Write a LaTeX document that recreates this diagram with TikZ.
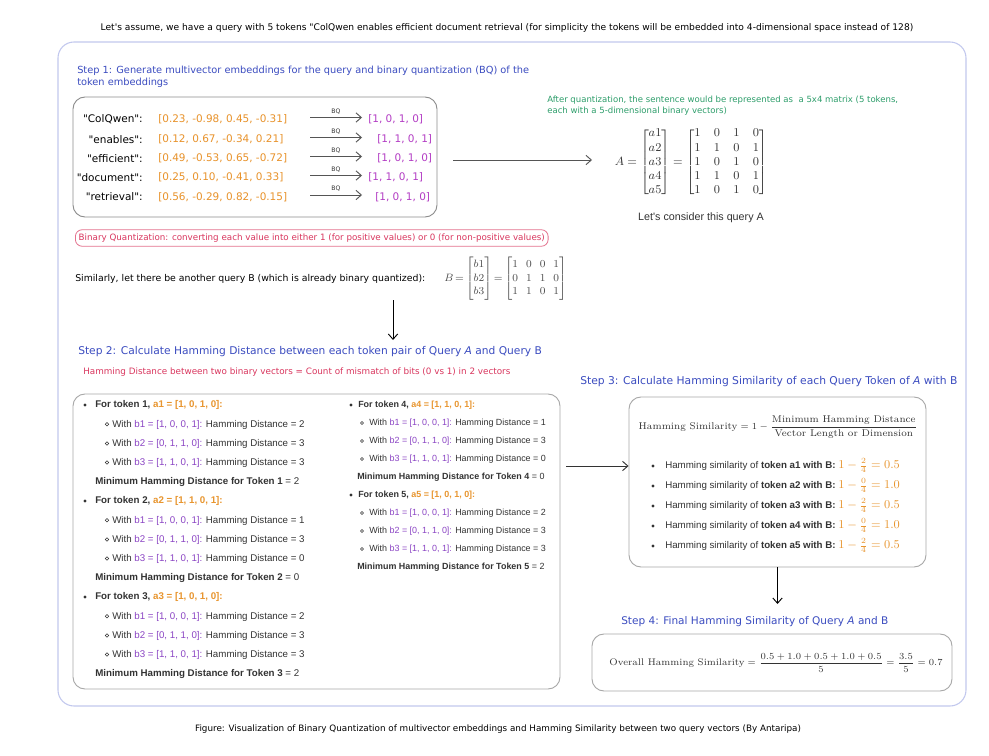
\documentclass[tikz,border=0pt]{standalone}
\usepackage{amsmath}
\usepackage[no-math]{fontspec}
\newfontfamily\hwfont{DejaVu Sans}
\newfontfamily\lsans{Liberation Sans}
\usetikzlibrary{arrows.meta,fit}
\definecolor{hwblue}{HTML}{3B4CC0}
\definecolor{vorange}{HTML}{E8922A}
\definecolor{vpurple}{HTML}{B33CC4}
\definecolor{lpurple}{HTML}{8B45C4}
\definecolor{lorange}{HTML}{E8952E}
\definecolor{hwgreen}{HTML}{2E9E6B}
\definecolor{hwred}{HTML}{D9365E}
\definecolor{txt}{HTML}{333333}
\definecolor{boxgray}{HTML}{A8A8A8}
\definecolor{outerb}{HTML}{C2C8EE}
\definecolor{arrgray}{HTML}{555555}
\newcommand\fs[1]{\fontsize{#1}{#1}\selectfont}
\newcommand\tokline[3]{\textbf{For token #1, \textcolor{lorange}{#2 = #3:}}}
\newcommand\withline[3]{With \textcolor{lpurple}{#1 = #2:} Hamming Distance = #3}
\newcommand\minline[2]{\textbf{Minimum Hamming Distance for Token #1} = #2}
\newcommand\simline[2]{Hamming similarity of \textbf{token #1 with B:} \textcolor{lorange}{\fontsize{9}{9}\selectfont$1-\frac{#2}{4}=\ifnum#2=0 1.0\else 0.5\fi$}}
\tikzset{
  hw/.style={inner sep=0pt, font=\hwfont},
  box/.style={draw=boxgray, line width=0.7pt, rounded corners=9pt, inner sep=0pt},
  arr/.style={draw=arrgray, line width=0.7pt, -{Straight Barb[length=4pt,width=7pt]}},
  lstL/.style={anchor=mid west, inner sep=0pt, text=txt, font=\lsans\fontsize{7.3}{8}\selectfont},
  lstR/.style={anchor=mid west, inner sep=0pt, text=txt, font=\lsans\fontsize{6.7}{7.5}\selectfont},
  vec/.style={hw, anchor=west, text=vorange, font=\hwfont\fs{7.85}},
  res/.style={hw, anchor=west, text=vpurple, font=\hwfont\fs{7.85}},
  lab/.style={hw, anchor=east, text=black, font=\hwfont\fs{7.85}},
  bq/.style={hw, text=txt, font=\hwfont\fs{4.6}},
  mathn/.style={inner sep=0pt, text=txt},
}
\begin{document}
\begin{tikzpicture}[x=0.75pt,y=-0.75pt]
\useasboundingbox (0,0) rectangle (989,756);
\fill[white] (0,0) rectangle (989,756);

% title
\node[hw, font=\hwfont\fs{6.85}] (title) at (507,28) {Let's assume, we have a query with 5 tokens "ColQwen enables efficient document retrieval (for simplicity the tokens will be embedded into 4-dimensional space instead of 128)};

% outer frame
\node[fit={(58,42) (966,706)}, draw=outerb, line width=0.8pt, rounded corners=12pt, inner sep=0pt] (outer) {};

% step 1
\node[hw, anchor=west, text=hwblue, align=left, font=\hwfont\fontsize{7.35}{9.2}\selectfont] (s1head) at (77,77) {Step 1: Generate multivector embeddings for the query and binary quantization (BQ) of the\\token embeddings};
\node[box, draw=black!45, fit={(73,97) (437,217)}] (s1box) {};

\node[lab] (l1) at (143,119.5) {"ColQwen":};
\node[lab] (l2) at (143,139.5) {"enables":};
\node[lab] (l3) at (143,158.5) {"efficient":};
\node[lab] (l4) at (143,177.5) {"document":};
\node[lab] (l5) at (143,197) {"retrieval":};

\node[vec] (v1) at (158,119.5) {[0.23, -0.98, 0.45, -0.31]};
\node[vec] (v2) at (158,139.5) {[0.12, 0.67, -0.34, 0.21]};
\node[vec] (v3) at (158,158.5) {[0.49, -0.53, 0.65, -0.72]};
\node[vec] (v4) at (158,177.5) {[0.25, 0.10, -0.41, 0.33]};
\node[vec] (v5) at (158,197) {[0.56, -0.29, 0.82, -0.15]};

\node[res] (r1) at (368,119.5) {[1, 0, 1, 0]};
\node[res] (r2) at (377,139.5) {[1, 1, 0, 1]};
\node[res] (r3) at (377,158.5) {[1, 0, 1, 0]};
\node[res] (r4) at (368,177.5) {[1, 1, 0, 1]};
\node[res] (r5) at (375,197) {[1, 0, 1, 0]};

\foreach \i/\y in {1/117.5,2/137.5,3/156.5,4/175.5,5/195}{
  \coordinate (bqs\i) at (310,\y);
  \coordinate (bqe\i) at (362,\y);
  \draw[arr] (bqs\i) -- (bqe\i);
  \node[bq] (bql\i) at (336,\y-6) {BQ};
}

% arrow to A
\coordinate (aS) at (453,160);
\coordinate (aE) at (592,160);
\draw[arr] (aS) -- (aE);

\node[hw, anchor=west, text=hwgreen, align=left, font=\hwfont\fontsize{6.4}{8.4}\selectfont] (green) at (547,105.5) {After quantization, the sentence would be represented as \ a 5x4 matrix (5 tokens,\\each with a 5-dimensional binary vectors)};

\node[mathn] (Aeq) at (691,162.5) {\fontsize{8.8}{10.65}\selectfont $A=\begin{bmatrix}a1\\a2\\a3\\a4\\a5\end{bmatrix}=\begin{bmatrix}1&0&1&0\\1&1&0&1\\1&0&1&0\\1&1&0&1\\1&0&1&0\end{bmatrix}$};
\node[inner sep=0pt, text=txt, font=\lsans\fs{8.05}] (consA) at (701,218) {Let's consider this query A};

% BQ definition
\node[draw=hwred!70, rounded corners=5pt, line width=0.6pt, anchor=west, inner xsep=2.5pt, inner ysep=3pt, text=hwred, font=\hwfont\fs{6.55}] (bqdef) at (75,238) {Binary Quantization: converting each value into either 1 (for positive values) or 0 (for non-positive values)};

% query B
\node[hw, anchor=west, text=black, font=\hwfont\fs{7.0}] (simB) at (75,279) {Similarly, let there be another query B (which is already binary quantized):};
\node[mathn, anchor=west, text=black!70] (Beq) at (444,278.5) {\fontsize{7.6}{10.3}\selectfont \setlength{\arraycolsep}{3pt}$B\mskip-2mu=\mskip-2mu\begin{bmatrix}b1\\b2\\b3\end{bmatrix}\mskip-2mu=\mskip-2mu\begin{bmatrix}1&0&0&1\\0&1&1&0\\1&1&0&1\end{bmatrix}$};

\coordinate (dS) at (393,300);
\coordinate (dE) at (393,340);
\draw[arr, draw=black] (dS) -- (dE);

% step 2
\node[hw, anchor=west, text=hwblue, font=\hwfont\fs{8.0}] (s2head) at (78,352) {Step 2: Calculate Hamming Distance between each token pair of Query \textit{A} and Query B};
\node[hw, anchor=west, text=hwred, font=\hwfont\fs{6.6}] (s2sub) at (83,372) {Hamming Distance between two binary vectors = Count of mismatch of bits (0 vs 1) in 2 vectors};
\node[box, fit={(73,394) (560,689)}] (s2box) {};

% left column
\foreach \y in {405,501,597}{\fill[txt] (85,\y) circle (1.3pt);}
\foreach \y in {424.2,443.4,462.6,520.2,539.4,558.6,616.2,635.4,654.6}{\draw[txt, line width=0.4pt] (107,\y) circle (1.3pt);}
\node[lstL] (t1) at (95,405) {\tokline{1}{a1}{[1, 0, 1, 0]}};
\node[lstL] (t1a) at (112,424.2) {\withline{b1}{[1, 0, 0, 1]}{2}};
\node[lstL] (t1b) at (112,443.4) {\withline{b2}{[0, 1, 1, 0]}{3}};
\node[lstL] (t1c) at (112,462.6) {\withline{b3}{[1, 1, 0, 1]}{3}};
\node[lstL] (t1m) at (95,481.8) {\minline{1}{2}};
\node[lstL] (t2) at (95,501) {\tokline{2}{a2}{[1, 1, 0, 1]}};
\node[lstL] (t2a) at (112,520.2) {\withline{b1}{[1, 0, 0, 1]}{1}};
\node[lstL] (t2b) at (112,539.4) {\withline{b2}{[0, 1, 1, 0]}{3}};
\node[lstL] (t2c) at (112,558.6) {\withline{b3}{[1, 1, 0, 1]}{0}};
\node[lstL] (t2m) at (95,577.8) {\minline{2}{0}};
\node[lstL] (t3) at (95,597) {\tokline{3}{a3}{[1, 0, 1, 0]}};
\node[lstL] (t3a) at (112,616.2) {\withline{b1}{[1, 0, 0, 1]}{2}};
\node[lstL] (t3b) at (112,635.4) {\withline{b2}{[0, 1, 1, 0]}{3}};
\node[lstL] (t3c) at (112,654.6) {\withline{b3}{[1, 1, 0, 1]}{3}};
\node[lstL] (t3m) at (95,673.8) {\minline{3}{2}};

% right column
\foreach \y in {405,495}{\fill[txt] (351,\y) circle (1.2pt);}
\foreach \y in {423,441,459,513,531,549}{\draw[txt, line width=0.4pt] (362,\y) circle (1.2pt);}
\node[lstR] (t4) at (358,405) {\tokline{4}{a4}{[1, 1, 0, 1]}};
\node[lstR] (t4a) at (369,423) {\withline{b1}{[1, 0, 0, 1]}{1}};
\node[lstR] (t4b) at (369,441) {\withline{b2}{[0, 1, 1, 0]}{3}};
\node[lstR] (t4c) at (369,459) {\withline{b3}{[1, 1, 0, 1]}{0}};
\node[lstR] (t4m) at (357,477) {\minline{4}{0}};
\node[lstR] (t5) at (358,495) {\tokline{5}{a5}{[1, 0, 1, 0]}};
\node[lstR] (t5a) at (369,513) {\withline{b1}{[1, 0, 0, 1]}{2}};
\node[lstR] (t5b) at (369,531) {\withline{b2}{[0, 1, 1, 0]}{3}};
\node[lstR] (t5c) at (369,549) {\withline{b3}{[1, 1, 0, 1]}{3}};
\node[lstR] (t5m) at (357,567) {\minline{5}{2}};

% step 3
\node[hw, anchor=west, text=hwblue, font=\hwfont\fs{8.05}] (s3head) at (580,382) {Step 3: Calculate Hamming Similarity of each Query Token of \textit{A} with B};
\node[box, fit={(629,397) (926,567)}] (s3box) {};
\coordinate (s3S) at (566,466);
\draw[arr, draw=black!80] (s3S) -- (s3S -| s3box.west);
\node[mathn] (hsim) at (778,427) {\fontsize{7.35}{9.5}\selectfont $\text{Hamming Similarity}=1-\dfrac{\text{Minimum Hamming Distance}}{\text{Vector Length or Dimension}}$};
\foreach \y in {466,486,506,526,546}{\fill[txt] (653,\y) circle (1.3pt);}
\node[lstL] (h1) at (665,466) {\simline{a1}{2}};
\node[lstL] (h2) at (665,486) {\simline{a2}{0}};
\node[lstL] (h3) at (665,506) {\simline{a3}{2}};
\node[lstL] (h4) at (665,526) {\simline{a4}{0}};
\node[lstL] (h5) at (665,546) {\simline{a5}{2}};

\coordinate (s4E) at (s3box.south |- 0,604);
\draw[arr, draw=black] (s3box.south) -- (s4E);

% step 4
\node[hw, anchor=west, text=hwblue, font=\hwfont\fs{7.9}] (s4head) at (621,622) {Step 4: Final Hamming Similarity of Query \textit{A} and B};
\node[box, fit={(592,634) (952,691)}] (s4box) {};
\node[mathn] (ohs) at (776,663) {\fontsize{7.2}{9}\selectfont $\text{Overall Hamming Similarity}=\dfrac{0.5+1.0+0.5+1.0+0.5}{5}=\dfrac{3.5}{5}=0.7$};

% caption
\node[hw, font=\hwfont\fs{6.6}] (caption) at (498,729) {Figure: Visualization of Binary Quantization of multivector embeddings and Hamming Similarity between two query vectors (By Antaripa)};
\end{tikzpicture}
\end{document}
